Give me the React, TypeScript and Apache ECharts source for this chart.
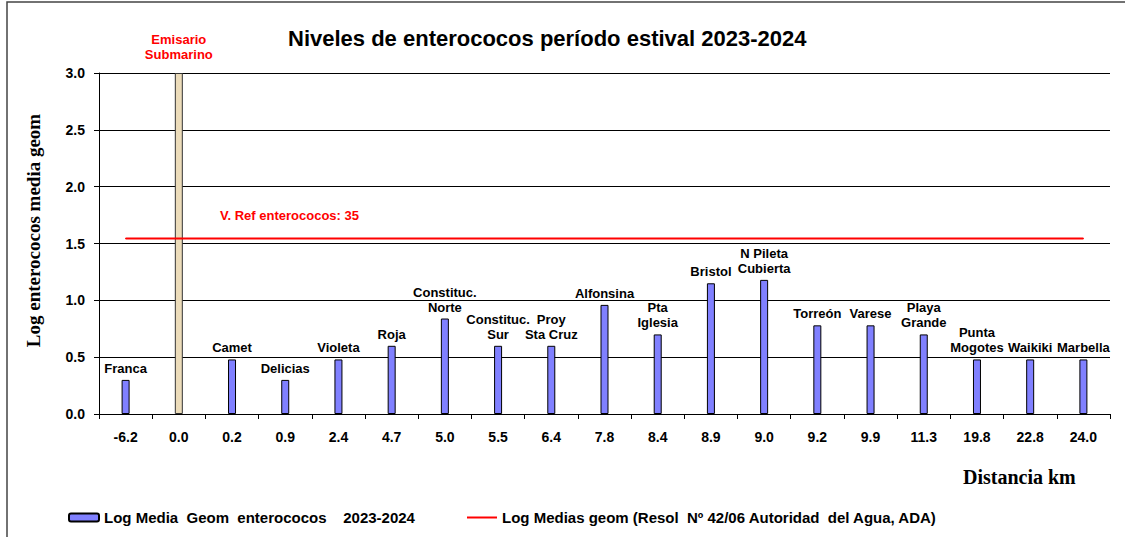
import React, { useEffect, useRef } from "react";
import * as echarts from "echarts";

const distances = ["-6.2", "0.0", "0.2", "0.9", "2.4", "4.7", "5.0", "5.5", "6.4", "7.8", "8.4", "8.9", "9.0", "9.2", "9.9", "11.3", "19.8", "22.8", "24.0"];
const beaches = ["Franca", "Emisario\nSubmarino", "Camet", "Delicias", "Violeta", "Roja", "Constituc.\nNorte", "Constituc.\nSur", "Proy\nSta Cruz", "Alfonsina", "Pta\nIglesia", "Bristol", "N Pileta\nCubierta", "Torreón", "Varese", "Playa\nGrande", "Punta\nMogotes", "Waikiki", "Marbella"];
const logMedia = [0.30, null, 0.48, 0.30, 0.48, 0.60, 0.84, 0.60, 0.60, 0.96, 0.70, 1.15, 1.18, 0.78, 0.78, 0.70, 0.48, 0.48, 0.48];
const emisario = [null, 3.0, null, null, null, null, null, null, null, null, null, null, null, null, null, null, null, null, null];
const refLog = 1.544;
const refLabel = "V. Ref enterococos: 35";
const yTicks = { min: 0, max: 3, interval: 0.5 };

const barName = "Log Media  Geom  enterococos    2023-2024";
const lineName = "Log Medias geom (Resol  Nº 42/06 Autoridad  del Agua, ADA)";

const SANS = "Arial, 'Liberation Sans', sans-serif";
const SERIF = "'Times New Roman', 'Liberation Serif', serif";

export default function App() {
  const ref = useRef<HTMLDivElement>(null);
  useEffect(() => {
    if (!ref.current) return;
    const chart = echarts.init(ref.current, null, { renderer: "svg" });
    const refData = distances.map((_, i) =>
      i === 2
        ? {
            value: refLog,
            label: {
              show: true,
              position: "top",
              distance: 16,
              align: "left",
              offset: [-12, 0],
              formatter: refLabel,
              color: "#ff0000",
              fontWeight: "bold",
              fontSize: 13,
              fontFamily: SANS,
            },
          }
        : refLog
    );
    chart.setOption({
      animation: false,
      backgroundColor: "#ffffff",
      title: {
        text: "Niveles de enterococos período estival 2023-2024",
        left: 283,
        top: 22,
        textStyle: { fontSize: 22, fontWeight: "bold", color: "#000", fontFamily: SANS },
      },
      graphic: [
        {
          type: "rect",
          shape: { x: 7, y: 2, width: 1300, height: 700 },
          style: { fill: "none", stroke: "#444", lineWidth: 1.5 },
          silent: true,
        },
        {
          type: "text",
          left: 963,
          top: 467,
          style: { text: "Distancia km", font: `bold 20px ${SERIF}`, fill: "#000" },
        },
      ],
      legend: [
        {
          left: 63,
          top: 505,
          itemWidth: 30,
          itemHeight: 8,
          itemGap: 5,
          data: [barName],
          textStyle: { fontSize: 15, fontWeight: "bold", color: "#000", fontFamily: SANS },
          selectedMode: false,
        },
        {
          left: 462,
          top: 505,
          itemWidth: 30,
          itemHeight: 2,
          data: [{ name: lineName, icon: "rect" }],
          textStyle: { fontSize: 15, fontWeight: "bold", color: "#000", fontFamily: SANS },
          selectedMode: false,
        },
      ],
      grid: { left: 99, right: 15, top: 73, bottom: 123 },
      xAxis: {
        type: "category",
        data: distances,
        boundaryGap: true,
        axisLine: { show: true, lineStyle: { color: "#000", width: 1 } },
        axisTick: { show: true, length: 5, lineStyle: { color: "#000" } },
        axisLabel: { fontSize: 14, fontWeight: "bold", color: "#000", fontFamily: SANS, margin: 16 },
        splitLine: { show: false },
      },
      yAxis: {
        type: "value",
        min: yTicks.min,
        max: yTicks.max,
        interval: yTicks.interval,
        name: "Log enterococos media geom",
        nameLocation: "middle",
        nameGap: 56,
        nameTextStyle: { fontSize: 19, fontWeight: "bold", color: "#000", fontFamily: SERIF, padding: [0, 0, 0, 26] },
        axisLine: { show: true, lineStyle: { color: "#000", width: 1 } },
        axisTick: { show: true, length: 5, lineStyle: { color: "#000" } },
        axisLabel: {
          fontSize: 14,
          fontWeight: "bold",
          color: "#000",
          fontFamily: SANS,
          margin: 14,
          formatter: (v: number) => v.toFixed(1),
        },
        splitLine: { show: true, lineStyle: { color: "#000", width: 1 } },
      },
      series: [
        {
          name: barName,
          type: "bar",
          data: logMedia,
          barWidth: 8,
          barGap: "-100%",
          itemStyle: { color: "#8080ff", borderColor: "#000", borderWidth: 1 },
          label: {
            show: true,
            position: "top",
            distance: 4,
            formatter: (p: any) => beaches[p.dataIndex],
            fontSize: 13,
            fontWeight: "bold",
            color: "#000",
            fontFamily: SANS,
            lineHeight: 15,
          },
        },
        {
          name: "Emisario",
          type: "bar",
          data: emisario,
          barWidth: 8,
          barGap: "-100%",
          itemStyle: { color: "#ecdcba", borderColor: "#333", borderWidth: 1 },
          label: {
            show: true,
            position: "top",
            distance: 11,
            formatter: (p: any) => beaches[p.dataIndex],
            fontSize: 13,
            fontWeight: "bold",
            color: "#ff0000",
            fontFamily: SANS,
            lineHeight: 15,
          },
        },
        {
          name: lineName,
          type: "line",
          data: refData,
          showSymbol: true,
          symbol: "circle",
          symbolSize: 1,
          itemStyle: { color: "#ff0000" },
          lineStyle: { color: "#ff0000", width: 2 },
          z: 5,
        },
      ],
    });
    return () => chart.dispose();
  }, []);
  return <div ref={ref} style={{ position: "fixed", left: 0, top: 0, width: 1125, height: 537 }} />;
}
